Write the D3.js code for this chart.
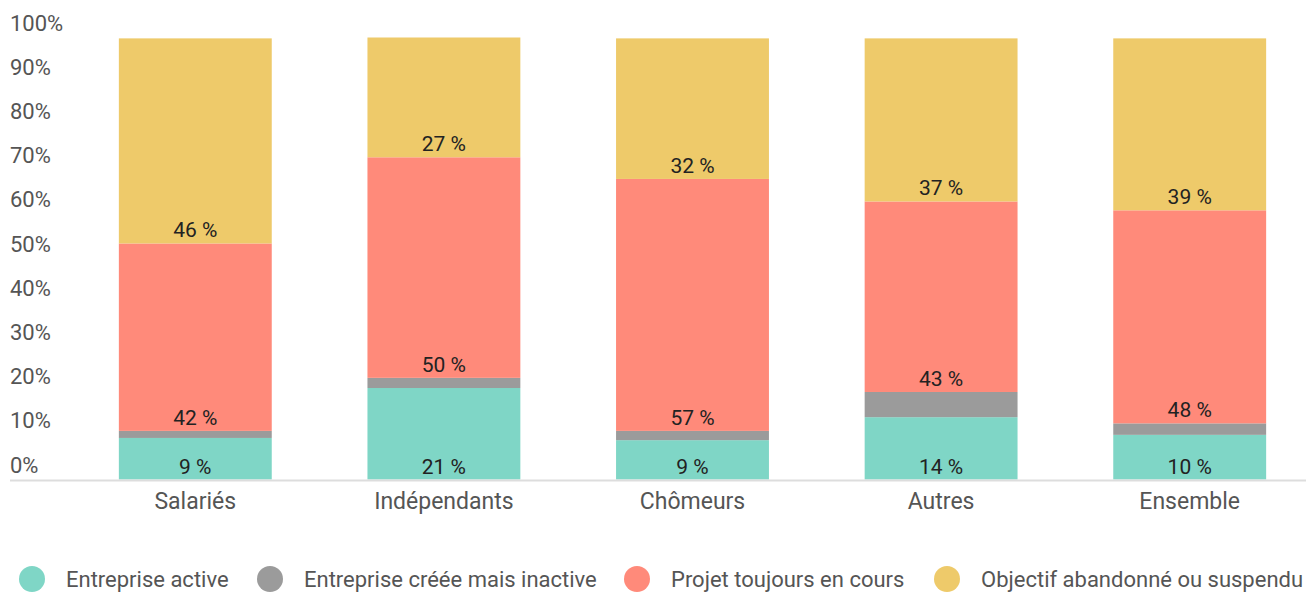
<!DOCTYPE html>
<html>
<head>
<meta charset="utf-8">
<script src="https://cdn.jsdelivr.net/npm/d3@7"></script>
<style>
  body { margin: 0; background: #fff; overflow: hidden; }
  text { font-family: Roboto, "Noto Sans", sans-serif; }
</style>
</head>
<body>
<div id="target"></div>
<script>
let categories = ["Salariés", "Indépendants", "Chômeurs", "Autres", "Ensemble"]
let seriesNames = ["Entreprise active", "Entreprise créée mais inactive", "Projet toujours en cours", "Objectif abandonné ou suspendu"]
let active = [9.4, 20.7, 8.9, 14.1, 10.1]
let inactive = [1.6, 2.3, 2.1, 5.7, 2.6]
let projet = [42.4, 49.9, 57.0, 43.1, 48.2]
let abandon = [46.4, 27.1, 31.8, 36.9, 38.9]
let yTicks = [0, 10, 20, 30, 40, 50, 60, 70, 80, 90, 100]
let colors = ["#7fd6c6", "#9b9b9b", "#ff8a7a", "#eeca6a"]

let width = 1306,
  height = 593

let svg = d3.select("#target").append("svg")
  .attr("width", width)
  .attr("height", height)

let x = d3.scaleBand()
  .domain(categories)
  .range([71, 1314])
  .paddingInner(0.385)
  .paddingOuter(0.1925)

let y = d3.scaleLinear().domain([0, 100]).range([479.5, 37.5])

let rows = categories.map((c, i) => ({
  cat: c,
  s0: active[i], s1: inactive[i], s2: projet[i], s3: abandon[i]
}))
let stack = d3.stack().keys(["s0", "s1", "s2", "s3"])(rows)

// y tick labels (sit above their gridline position)
svg.append("g").selectAll("text")
  .data(yTicks)
  .enter().append("text")
  .attr("x", 10)
  .attr("y", d => y(d) - 7)
  .attr("fill", "#555")
  .style("font-size", "22px")
  .text(d => d + "%")

// bars
svg.append("g").selectAll("g")
  .data(stack)
  .enter().append("g")
  .attr("fill", (d, i) => colors[i])
  .selectAll("rect")
  .data(d => d)
  .enter().append("rect")
  .attr("x", d => x(d.data.cat))
  .attr("width", x.bandwidth())
  .attr("y", d => y(d[1]))
  .attr("height", d => y(d[0]) - y(d[1]))

// value labels at the base of each segment (not for inactive)
stack.forEach((layer, k) => {
  if (k === 1) return
  svg.append("g").selectAll("text")
    .data(layer)
    .enter().append("text")
    .attr("x", d => x(d.data.cat) + x.bandwidth() / 2)
    .attr("y", d => y(d[0]) - 6)
    .attr("text-anchor", "middle")
    .attr("fill", "#222")
    .style("font-size", "21px")
    .text(d => Math.round(d[1] - d[0]) + " %")
})

// x axis
let xAxis = d3.axisBottom(x).tickSize(0).tickPadding(13)
let gx = svg.append("g")
  .attr("transform", "translate(0," + y(0) + ")")
  .call(xAxis)
gx.select(".domain").remove()
gx.selectAll("text")
  .attr("fill", "#555")
  .style("font-size", "23px")
  .style("font-family", "Roboto, sans-serif")
svg.append("line")
  .attr("x1", 10).attr("x2", width)
  .attr("y1", y(0) + 1).attr("y2", y(0) + 1)
  .attr("stroke", "#ddd")
  .attr("stroke-width", 2)

// legend
let legendX = [32, 270, 637, 947]
let legend = svg.append("g").selectAll("g")
  .data(seriesNames)
  .enter().append("g")
  .attr("transform", (d, i) => "translate(" + legendX[i] + ",579)")
legend.append("circle")
  .attr("r", 13)
  .attr("fill", (d, i) => colors[i])
legend.append("text")
  .attr("x", 34)
  .attr("y", 8)
  .attr("fill", "#555")
  .style("font-size", "22px")
  .text(d => d)
</script>
</body>
</html>
